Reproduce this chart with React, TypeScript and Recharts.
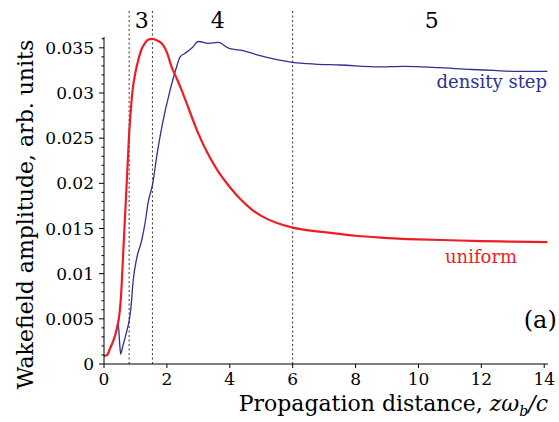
import { LineChart, Line, XAxis, YAxis, ReferenceLine, ReferenceDot, Label } from "recharts";

// wakefield amplitude vs. propagation distance, uniform plasma
const uniformZ = [
  0, 0.1, 0.2, 0.3, 0.4, 0.5, 0.55, 0.6, 0.65, 0.7, 0.75, 0.8, 0.85, 0.9, 1.0, 1.1, 1.2, 1.3,
  1.4, 1.54, 1.7, 1.88, 2.0, 2.15, 2.3, 2.47, 2.7, 3.0, 3.3, 3.6, 4.0, 4.35, 4.7, 5.0, 5.5, 6.0,
  6.5, 7.0, 8.0, 8.8, 10.0, 11.0, 12.0, 13.0, 14.1,
];
const uniformAmp = [
  0.0009, 0.001, 0.0018, 0.0026, 0.0038, 0.0058, 0.008, 0.0115, 0.015, 0.0185, 0.022, 0.0255,
  0.028, 0.03, 0.0323, 0.0338, 0.0349, 0.0355, 0.0359, 0.036, 0.0358, 0.0353, 0.0345, 0.0329,
  0.0317, 0.0303, 0.0282, 0.0255, 0.0233, 0.0215, 0.0196, 0.0182, 0.0171, 0.0164, 0.0156,
  0.0151, 0.0148, 0.0146, 0.0142, 0.014, 0.0138, 0.0137, 0.0136, 0.01355, 0.0135,
];

// same, with a density step
const stepZ = [
  0, 0.1, 0.2, 0.3, 0.4, 0.45, 0.5, 0.53, 0.6, 0.7, 0.8, 0.85, 0.93, 1.04, 1.2, 1.3, 1.41, 1.54,
  1.7, 1.86, 2.1, 2.3, 2.42, 2.58, 2.8, 3.0, 3.32, 3.63, 4.0, 4.42, 4.9, 5.5, 6.0, 6.7, 7.5, 8.8,
  9.5, 10.1, 10.7, 11.7, 12.4, 13.0, 14.1,
];
const stepAmp = [
  0.0009, 0.001, 0.0018, 0.0026, 0.0038, 0.0045, 0.0022, 0.0011, 0.002, 0.0033, 0.0048, 0.006,
  0.0093, 0.0117, 0.0137, 0.0155, 0.018, 0.0198, 0.0235, 0.0266, 0.0303, 0.0328, 0.034, 0.0344,
  0.035, 0.0357, 0.0355, 0.0356, 0.0349, 0.0347, 0.0342, 0.0337, 0.0334, 0.0332, 0.0331, 0.0329,
  0.03295, 0.0329, 0.0328, 0.0326, 0.0325, 0.0324, 0.0324,
];

const xTicks = [0, 2, 4, 6, 8, 10, 12, 14];
const yMajor = [0, 0.005, 0.01, 0.015, 0.02, 0.025, 0.03, 0.035];
const yMinor = [
  0, 0.001, 0.002, 0.003, 0.004, 0.005, 0.006, 0.007, 0.008, 0.009, 0.01, 0.011, 0.012, 0.013,
  0.014, 0.015, 0.016, 0.017, 0.018, 0.019, 0.02, 0.021, 0.022, 0.023, 0.024, 0.025, 0.026,
  0.027, 0.028, 0.029, 0.03, 0.031, 0.032, 0.033, 0.034, 0.035, 0.036,
];

// stage boundaries and stage numbers
const stageBounds = [0.8, 1.54, 6];
const stageNames = ["3", "4", "5"];
const stageNameZ = [1.2, 3.62, 10.42];

const RED = "#ee1c25";
const BLUE = "#2e3192";
const FONT = "'DejaVu Serif', serif";

const uniformData = uniformZ.map((z, i) => ({ z, amp: uniformAmp[i] }));
const stepData = stepZ.map((z, i) => ({ z, amp: stepAmp[i] }));

// eslint-disable-next-line @typescript-eslint/no-explicit-any
function YTick({ x, y, payload }: any) {
  const v = payload.value as number;
  const major = yMajor.some((t) => Math.abs(t - v) < 1e-9);
  return (
    <g>
      <line x1={x} x2={x - (major ? 5 : 2.5)} y1={y} y2={y} stroke="#000" />
      {major && (
        <text x={x - 10} y={y + 6} textAnchor="end" fontFamily={FONT} fontSize={17} fill="#000">
          {String(v)}
        </text>
      )}
    </g>
  );
}

// eslint-disable-next-line @typescript-eslint/no-explicit-any
function XTick({ x, y, payload }: any) {
  return (
    <g>
      <line x1={x} x2={x} y1={y} y2={y + 4} stroke="#000" />
      <text x={x} y={y + 21} textAnchor="middle" fontFamily={FONT} fontSize={17} fill="#000">
        {payload.value}
      </text>
    </g>
  );
}

function note(text: string, color: string, size: number, anchor: string) {
  // eslint-disable-next-line @typescript-eslint/no-explicit-any
  return (p: any) => (
    <text x={p.cx} y={p.cy} textAnchor={anchor} fontFamily={FONT} fontSize={size} fill={color}>
      {text}
    </text>
  );
}

export default function App() {
  return (
    <div style={{ position: "absolute", left: 0, top: 0, width: 559, height: 422, background: "#fff" }}>
      <LineChart width={559} height={422} margin={{ top: 37, right: 11, left: 0, bottom: 0 }}>
        <XAxis
          dataKey="z"
          type="number"
          domain={[0, 14.12]}
          ticks={xTicks}
          tick={<XTick />}
          tickLine={false}
          tickSize={0}
          tickMargin={0}
          height={58}
          axisLine={{ stroke: "#000" }}
          allowDataOverflow
        >
          <Label
            content={({ viewBox }: any) => (
              <text
                x={viewBox.x + viewBox.width}
                y={viewBox.y + 47}
                textAnchor="end"
                fontFamily={FONT}
                fontSize={22}
                fill="#000"
              >
                Propagation distance,{" "}
                <tspan fontStyle="italic">zω</tspan>
                <tspan fontStyle="italic" fontSize={14} dy={5}>b</tspan>
                <tspan fontStyle="italic" dy={-5}>/c</tspan>
              </text>
            )}
          />
        </XAxis>
        <YAxis
          type="number"
          domain={[0, 0.0362]}
          ticks={yMinor}
          interval={0}
          tick={<YTick />}
          tickLine={false}
          tickSize={0}
          tickMargin={0}
          width={104}
          axisLine={{ stroke: "#000" }}
          allowDataOverflow
        >
          <Label
            content={({ viewBox }: any) => {
              const cx = 25;
              const cy = viewBox.y + viewBox.height / 2 + 14;
              return (
                <text
                  x={cx}
                  y={cy}
                  transform={`rotate(-90 ${cx} ${cy})`}
                  textAnchor="middle"
                  dominantBaseline="central"
                  fontFamily={FONT}
                  fontSize={22}
                  fill="#000"
                >
                  Wakefield amplitude, arb. units
                </text>
              );
            }}
          />
        </YAxis>

        {stageBounds.map((z) => (
          <ReferenceLine
            key={z}
            segment={[{ x: z, y: 0 }, { x: z, y: 0.0392 }]}
            stroke="#333"
            strokeWidth={1}
            strokeDasharray="2 2.5"
            ifOverflow="visible"
          />
        ))}

        <Line
          data={stepData}
          dataKey="amp"
          type="monotone"
          stroke={BLUE}
          strokeWidth={1.3}
          dot={false}
          isAnimationActive={false}
        />
        <Line
          data={uniformData}
          dataKey="amp"
          type="monotone"
          stroke={RED}
          strokeWidth={2.2}
          dot={false}
          isAnimationActive={false}
        />

        {stageNames.map((s, i) => (
          <ReferenceDot
            key={s}
            x={stageNameZ[i]}
            y={0.0372}
            r={0}
            ifOverflow="visible"
            shape={note(s, "#000", 22, "middle")}
          />
        ))}
        <ReferenceDot x={14.09} y={0.0305} r={0} ifOverflow="visible" shape={note("density step", BLUE, 18, "end")} />
        <ReferenceDot x={11.99} y={0.0112} r={0} ifOverflow="visible" shape={note("uniform", RED, 18, "middle")} />
        <ReferenceDot x={14.4} y={0.004} r={0} ifOverflow="visible" shape={note("(a)", "#000", 24, "end")} />
      </LineChart>
    </div>
  );
}
